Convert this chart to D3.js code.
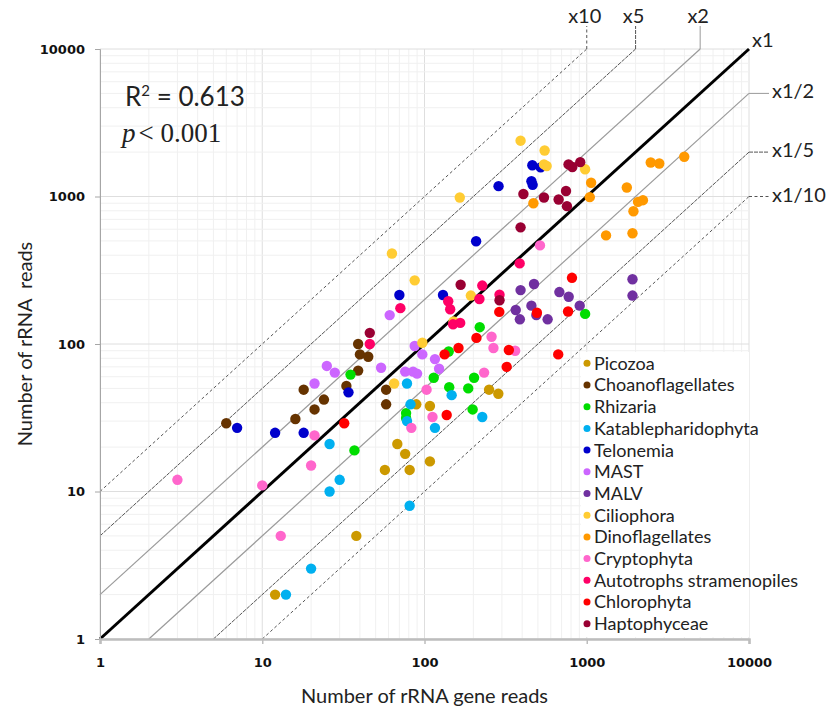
<!DOCTYPE html>
<html>
<head>
<meta charset="utf-8">
<script src="https://cdn.jsdelivr.net/npm/d3@7/dist/d3.min.js"></script>
<style>
  html, body { margin: 0; padding: 0; background: #fff; }
  svg { display: block; }
</style>
</head>
<body>
<svg id="chart" width="839" height="717"></svg>
<script>
// ---------------- DATA ----------------
const categories = ["Picozoa","Choanoflagellates","Rhizaria","Katablepharidophyta","Telonemia","MAST","MALV","Ciliophora","Dinoflagellates","Cryptophyta","Autotrophs stramenopiles","Chlorophyta","Haptophyceae"];
const colors = ["#CC9900","#663300","#00DD00","#00B0F0","#0000CC","#CC66FF","#7030A0","#FFCC33","#FF9900","#FF66CC","#FF0066","#FF0000","#990033"];

// [rRNA gene reads, rRNA reads]
const picozoa   = [[12,2],[38,5],[57,14],[81,14],[68,21],[76,18],[108,16],[89,39],[108,38],[250,49],[285,46]];
const choano    = [[6,29],[16,31],[18,49],[21,36],[24,42],[33,52],[39,100],[40,85],[45,82],[39,66],[58,49],[58,39]];
const rhizaria  = [[35,62],[37,19],[77,34],[77,31.5],[114,59],[141,89],[142,51],[186,50],[202,59],[198,36],[219,130],[977,160]];
const katable   = [[14,2],[20,3],[26,21],[30,12],[26,10],[81,8],[78,54],[82,39],[78,30],[116,27],[147,45],[227,32]];
const telonemia = [[7,27],[12,25],[18,25],[34,47],[70,215],[130,215],[208,497],[286,1175],[456,1270],[464,1200],[462,1630],[520,1575]];
const mast      = [[21,54],[25,71],[28,64],[54,69],[61,157],[76,65],[85,65],[90,63],[87,97],[97,85],[116,79],[123,68]];
const malv      = [[365,170],[387,147],[391,232],[456,182],[473,255],[489,157],[574,147],[678,225],[774,209],[905,182],[1914,275],[1914,213]];
const cilio     = [[63,411],[87,270],[165,984],[391,2390],[550,2050],[545,1650],[566,1610],[977,1530],[65,54],[97,102],[151,142],[193,213]];
const dino      = [[469,900],[1064,1240],[1044,990],[1766,1150],[2480,1700],[2800,1675],[3990,1860],[2070,920],[2220,944],[1940,794],[1315,545],[1914,563]];
const crypto    = [[3,12],[10,11],[13,5],[20,15],[21,24],[83,27],[103,49],[112,32],[233,64],[259,112],[266,94],[362,90],[515,466]];
const autotroph = [[46,100],[71,175],[140,195],[144,172],[150,136],[166,139],[218,202],[227,249],[290,216],[386,352]];
const chloro    = [[32,29],[137,33],[133,85],[162,94],[209,110],[321,70],[331,91],[289,165],[493,163],[667,85],[767,166],[811,281]];
const hapto     = [[46,119],[167,252],[290,198],[391,618],[407,1040],[545,984],[671,954],[745,1090],[755,860],[772,1650],[815,1585],[912,1710]];

const seriesData = [picozoa, choano, rhizaria, katable, telonemia, mast, malv, cilio, dino, crypto, autotroph, chloro, hapto];

const ratios = [10, 5, 2, 1, 0.5, 0.2, 0.1];
const ratioLabels = ["x10","x5","x2","x1","x1/2","x1/5","x1/10"];
const majorTicks = [1, 10, 100, 1000, 10000];
const r2Text = "0.613";
const pText = "0.001";

// ---------------- CHART ----------------
const svg = d3.select("#chart");
const L = 100, R = 749, T = 49, B = 639;
const x = d3.scaleLog().domain([1, 10000]).range([L, R]);
const y = d3.scaleLog().domain([1, 10000]).range([B, T]);

// gridlines
const allTicks = x.ticks();
const isMajor = d => Math.abs(Math.log10(d) - Math.round(Math.log10(d))) < 1e-9;
const grid = svg.append("g");
grid.selectAll(".vx").data(allTicks).join("line")
  .attr("x1", d => x(d)).attr("x2", d => x(d)).attr("y1", T).attr("y2", B)
  .attr("stroke", d => isMajor(d) ? "#dedede" : "#f0f0f0").attr("stroke-width", 1);
grid.selectAll(".hy").data(allTicks).join("line")
  .attr("y1", d => y(d)).attr("y2", d => y(d)).attr("x1", L).attr("x2", R)
  .attr("stroke", d => isMajor(d) ? "#dedede" : "#f0f0f0").attr("stroke-width", 1);

// line styles
function lineStyle(k) {
  if (k === 1) return {stroke: "#000", width: 3, dash: null};
  if (k === 10 || k === 0.1) return {stroke: "#555", width: 1, dash: "3,2.5"};
  if (k === 5 || k === 0.2) return {stroke: "#555", width: 1, dash: "4,1"};
  return {stroke: "#9a9a9a", width: 1.2, dash: null};
}

const lines = svg.append("g");
ratios.forEach((k, i) => {
  const s = lineStyle(k);
  let x0, y0, x1, y1;
  if (k >= 1) { x0 = 1; y0 = k; x1 = 10000 / k; y1 = 10000; }
  else { x0 = 1 / k; y0 = 1; x1 = 10000; y1 = 10000 * k; }
  const ln = lines.append("line")
    .attr("x1", x(x0)).attr("y1", y(y0)).attr("x2", x(x1)).attr("y2", y(y1))
    .attr("stroke", s.stroke).attr("stroke-width", s.width);
  if (s.dash) ln.attr("stroke-dasharray", s.dash);

  const lab = lines.append("text")
    .attr("font-family", "Lato, 'Open Sans', sans-serif")
    .attr("font-size", 20).attr("fill", "#222").text(ratioLabels[i]);
  if (k > 1) {
    const c = lines.append("line")
      .attr("x1", x(x1)).attr("x2", x(x1)).attr("y1", y(y1)).attr("y2", y(y1) - 23)
      .attr("stroke", s.stroke).attr("stroke-width", 1);
    if (s.dash) c.attr("stroke-dasharray", s.dash);
    lab.attr("x", x(x1) - 2).attr("y", y(y1) - 26).attr("text-anchor", "middle");
  } else if (k === 1) {
    lab.attr("x", x(x1) + 3).attr("y", y(y1) - 2);
  } else {
    const c = lines.append("line")
      .attr("x1", x(x1)).attr("x2", x(x1) + 20).attr("y1", y(y1)).attr("y2", y(y1))
      .attr("stroke", s.stroke).attr("stroke-width", 1);
    if (s.dash) c.attr("stroke-dasharray", s.dash);
    lab.attr("x", x(x1) + 23).attr("y", y(y1) - 2).attr("dy", "0.35em");
  }
});

// axes
const fmt = d3.format("d");
const yAxis = svg.append("g").attr("transform", `translate(${L},0)`)
  .call(d3.axisLeft(y).tickValues(majorTicks).tickFormat(fmt).tickSize(5).tickPadding(10));
yAxis.select(".domain").attr("stroke", "#a6a6a6");
yAxis.selectAll(".tick line").attr("stroke", "#a6a6a6");
yAxis.selectAll(".tick text").attr("font-family", "'DejaVu Sans', Verdana, sans-serif")
  .attr("font-weight", "bold").attr("font-size", 13).attr("fill", "#111");

const xAxis = svg.append("g").attr("transform", `translate(0,${B})`)
  .call(d3.axisBottom(x).tickValues(majorTicks).tickFormat(fmt).tickSize(5).tickPadding(14));
xAxis.select(".domain").attr("stroke", "#bdbdbd").attr("stroke-width", 2.5);
xAxis.selectAll(".tick line").attr("stroke", "#bdbdbd").attr("stroke-width", 1.5);
xAxis.selectAll(".tick text").attr("font-family", "'DejaVu Sans', Verdana, sans-serif")
  .attr("font-weight", "bold").attr("font-size", 13).attr("fill", "#111");

// axis titles
svg.append("text").attr("x", (L + R) / 2).attr("y", 703).attr("text-anchor", "middle")
  .attr("font-family", "Lato, sans-serif").attr("font-size", 20).attr("fill", "#222")
  .text("Number of rRNA gene reads");
svg.append("text").attr("transform", `translate(32,${(T + B) / 2}) rotate(-90)`)
  .attr("text-anchor", "middle").attr("font-family", "Lato, sans-serif")
  .attr("font-size", 20).attr("fill", "#222").attr("xml:space", "preserve")
  .text("Number of rRNA  reads");

// points
const pts = svg.append("g");
seriesData.forEach((data, i) => {
  pts.selectAll(null).data(data).join("circle")
    .attr("cx", d => x(d[0])).attr("cy", d => y(d[1])).attr("r", 5.2)
    .attr("fill", colors[i]);
});

// R2 and p annotations
const r2 = svg.append("text").attr("x", 125).attr("y", 106)
  .attr("font-family", "Lato, sans-serif").attr("font-size", 26).attr("fill", "#222");
r2.append("tspan").text("R");
r2.append("tspan").attr("font-size", 15).attr("dy", -10).text("2");
r2.append("tspan").attr("dy", 10).text(" = " + r2Text);

const pv = svg.append("text").attr("x", 122).attr("y", 142)
  .attr("font-family", "'Liberation Serif', 'Times New Roman', serif").attr("font-size", 27).attr("fill", "#222");
pv.append("tspan").attr("font-style", "italic").text("p");
pv.append("tspan").attr("dx", 3).text("< " + pText);

// legend
const lg = svg.append("g");
lg.append("rect").attr("x", 581).attr("y", 352).attr("width", 168).attr("height", 285).attr("fill", "#fff");
categories.forEach((c, i) => {
  const cy = 363.3 + i * 21.7;
  lg.append("circle").attr("cx", 587).attr("cy", cy).attr("r", 3.5).attr("fill", colors[i]);
  lg.append("text").attr("x", 594).attr("y", cy).attr("dy", "0.36em")
    .attr("font-family", "Lato, sans-serif").attr("font-size", 18).attr("fill", "#222").text(c);
});
</script>
</body>
</html>
